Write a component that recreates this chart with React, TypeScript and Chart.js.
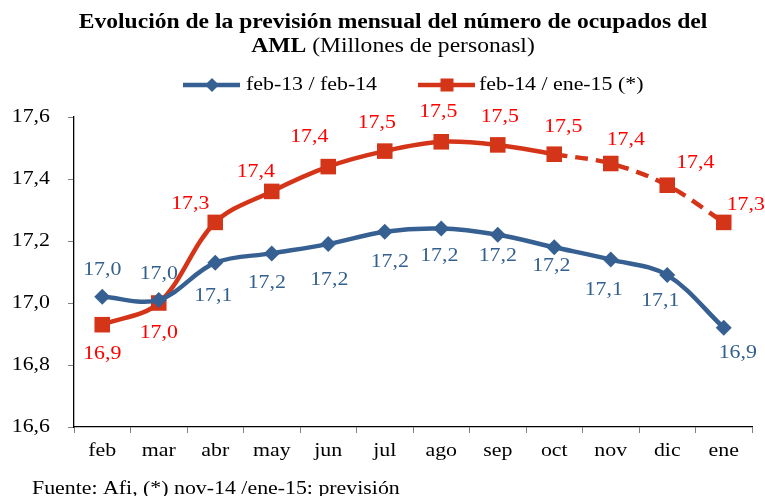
import React, { useEffect, useRef } from 'react';
import { Chart, registerables } from 'chart.js';

Chart.register(...registerables);

// ---- data ----
const months = ['feb', 'mar', 'abr', 'may', 'jun', 'jul', 'ago', 'sep', 'oct', 'nov', 'dic', 'ene'];
const serieFeb13Feb14 = [17.02, 17.01, 17.13, 17.16, 17.19, 17.23, 17.24, 17.22, 17.18, 17.14, 17.09, 16.92];
const serieFeb14Ene15 = [16.93, 17.0, 17.26, 17.36, 17.44, 17.49, 17.52, 17.51, 17.48, 17.45, 17.38, 17.26];
const yTickValues = [16.6, 16.8, 17.0, 17.2, 17.4, 17.6];
const seriesNames = ['feb-13 / feb-14', 'feb-14 / ene-15 (*)'];
const forecastFromIndex = 8; // oct onwards is forecast (dashed)
const titleLine1 = 'Evolución de la previsión mensual del número de ocupados del';
const titleLine2Bold = 'AML';
const titleLine2Normal = ' (Millones de personasl)';
const sourceText = 'Fuente: Afi, (*) nov-14 /ene-15: previsión';

// ---- layout / style ----
const labelOffsetsA: number[][] = [[0, -27], [0, -26], [-2, 33], [-5, 30], [1, 36], [5, 30], [-2, 27], [0, 21], [-3, 19], [-7, 30], [-7, 26], [14, 25]];
const labelOffsetsB: number[][] = [[0, 29], [0, 30], [-25, -18], [-16, -19], [-19, -30], [-8, -28], [-3, -30], [2, -28], [9, -27], [15, -23], [28, -22], [22, -17]];

const BLUE = '#376092';
const RED = '#D43418';
const BLUE_TXT = '#34608F';
const RED_TXT = '#FF0000';
const FONT = '"Liberation Serif", "Times New Roman", serif';
const SX = 1.15;

const fmt = (v: number) => v.toFixed(1).replace('.', ',');

function drawText(ctx: CanvasRenderingContext2D, text: string, x: number, y: number, align: string, font: string, color: string) {
  ctx.save();
  ctx.font = font;
  ctx.fillStyle = color;
  ctx.textBaseline = 'middle';
  ctx.textAlign = 'left';
  const w = ctx.measureText(text).width * SX;
  const left = align === 'center' ? x - w / 2 : align === 'right' ? x - w : x;
  ctx.translate(left, y);
  ctx.scale(SX, 1);
  ctx.fillText(text, 0, 0);
  ctx.restore();
  return w;
}

function textWidth(ctx: CanvasRenderingContext2D, text: string, font: string) {
  ctx.save();
  ctx.font = font;
  const w = ctx.measureText(text).width * SX;
  ctx.restore();
  return w;
}

const decorPlugin = {
  id: 'decor',
  afterDraw(chart: any) {
    const ctx: CanvasRenderingContext2D = chart.ctx;
    const xs = chart.scales.x;
    const ys = chart.scales.y;

    // title
    const fBold = `bold 20.5px ${FONT}`;
    const fNorm = `20.5px ${FONT}`;
    drawText(ctx, titleLine1, 393, 23, 'center', fBold, '#000');
    const w1 = textWidth(ctx, titleLine2Bold, fBold);
    const w2 = textWidth(ctx, titleLine2Normal, fNorm);
    const start = 393 - (w1 + w2) / 2;
    drawText(ctx, titleLine2Bold, start, 47, 'left', fBold, '#000');
    drawText(ctx, titleLine2Normal, start + w1, 47, 'left', fNorm, '#000');

    // legend
    const ly = 85;
    ctx.save();
    ctx.lineWidth = 4.5;
    ctx.strokeStyle = BLUE;
    ctx.beginPath(); ctx.moveTo(183, ly); ctx.lineTo(240, ly); ctx.stroke();
    ctx.fillStyle = BLUE;
    ctx.beginPath();
    ctx.moveTo(212, ly - 7); ctx.lineTo(219, ly); ctx.lineTo(212, ly + 7); ctx.lineTo(205, ly); ctx.closePath(); ctx.fill();
    ctx.strokeStyle = RED;
    ctx.beginPath(); ctx.moveTo(418, ly); ctx.lineTo(475, ly); ctx.stroke();
    ctx.fillStyle = RED;
    ctx.fillRect(447 - 6.5, ly - 6.5, 13, 13);
    ctx.restore();
    const lf = `19px ${FONT}`;
    drawText(ctx, seriesNames[0], 246, ly, 'left', lf, '#000');
    drawText(ctx, seriesNames[1], 479, ly, 'left', lf, '#000');

    // y tick labels
    yTickValues.forEach((v) => {
      drawText(ctx, fmt(v), 50, ys.getPixelForValue(v), 'right', `19px ${FONT}`, '#000');
    });
    // x tick labels
    months.forEach((m, i) => {
      drawText(ctx, m, xs.getPixelForValue(i), 451, 'center', `19px ${FONT}`, '#000');
    });

    // data labels
    const sets = [
      { data: serieFeb13Feb14, off: labelOffsetsA, color: BLUE_TXT },
      { data: serieFeb14Ene15, off: labelOffsetsB, color: RED_TXT },
    ];
    sets.forEach((s, di) => {
      const meta = chart.getDatasetMeta(di);
      meta.data.forEach((pt: any, j: number) => {
        const o = s.off[j];
        drawText(ctx, fmt(s.data[j]), pt.x + o[0], pt.y + o[1], 'center', `19px ${FONT}`, s.color);
      });
    });

    // source
    drawText(ctx, sourceText, 32, 489, 'left', `19px ${FONT}`, '#000');
  },
};

export default function App() {
  const ref = useRef<HTMLCanvasElement | null>(null);
  useEffect(() => {
    if (!ref.current) return;
    const chart = new Chart(ref.current, {
      type: 'line',
      data: {
        labels: months,
        datasets: [
          {
            label: seriesNames[0],
            data: serieFeb13Feb14,
            borderColor: BLUE,
            backgroundColor: BLUE,
            borderWidth: 4.5,
            pointStyle: 'rectRot',
            pointRadius: 8,
            pointBorderWidth: 0,
            pointBackgroundColor: BLUE,
            tension: 0.35,
            fill: false,
          },
          {
            label: seriesNames[1],
            data: serieFeb14Ene15,
            borderColor: RED,
            backgroundColor: RED,
            borderWidth: 4.5,
            pointStyle: 'rect',
            pointRadius: 11,
            pointBorderWidth: 0,
            pointBackgroundColor: RED,
            tension: 0.35,
            fill: false,
            segment: {
              borderDash: (c: any) => (c.p0DataIndex >= forecastFromIndex ? [13, 8] : undefined),
            },
          },
        ],
      },
      options: {
        animation: false,
        responsive: false,
        devicePixelRatio: 1,
        layout: { padding: { top: 117, left: 0, right: 13, bottom: 0 } },
        plugins: { legend: { display: false }, title: { display: false }, tooltip: { enabled: false } },
        scales: {
          x: {
            offset: true,
            grid: { offset: true, drawOnChartArea: false, drawTicks: true, tickLength: 6, color: '#808080' },
            border: { display: true, color: '#000', width: 1.3 },
            ticks: { display: false },
            afterFit: (s: any) => { s.height = 69; },
          },
          y: {
            min: 16.6,
            max: 17.6,
            ticks: { display: false, stepSize: 0.2 },
            grid: { drawOnChartArea: false, drawTicks: true, tickLength: 6, color: '#808080' },
            border: { display: true, color: '#000', width: 1.3 },
            afterFit: (s: any) => { s.width = 74; },
          },
        },
      },
      plugins: [decorPlugin],
    });
    return () => chart.destroy();
  }, []);
  return (
    <div style={{ position: 'fixed', left: 0, top: 0, width: 765, height: 496, background: '#fff' }}>
      <canvas ref={ref} width={765} height={496} style={{ width: 765, height: 496, display: 'block' }} />
    </div>
  );
}
